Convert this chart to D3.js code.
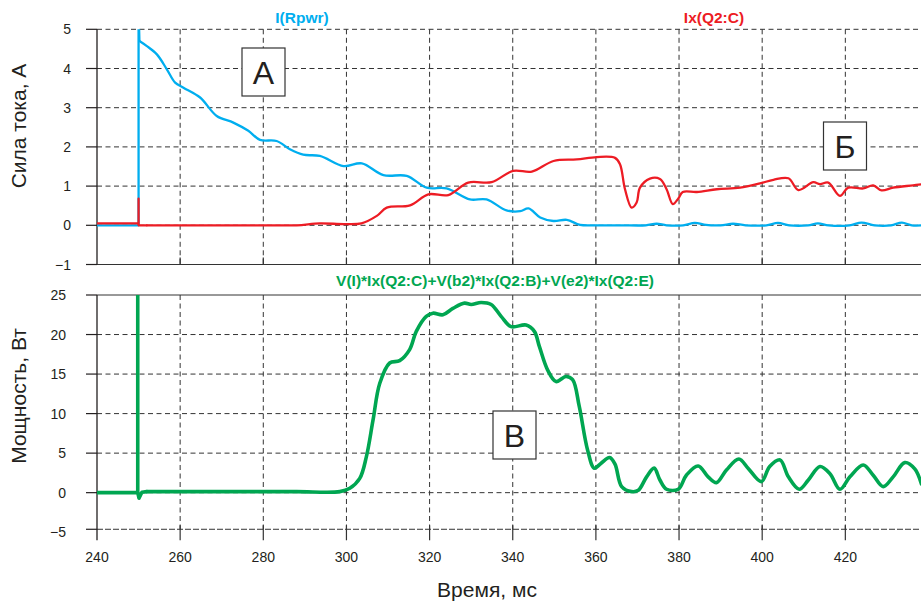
<!DOCTYPE html>
<html><head><meta charset="utf-8">
<script src="https://cdn.jsdelivr.net/npm/d3@7"></script>
<style>
html,body{margin:0;padding:0;background:#fff;}
svg{display:block;font-family:"Liberation Sans",Arial,sans-serif;}
</style></head>
<body>
<svg id="chart" width="921" height="604"></svg>
<script>
// ---- data ----
const xTicks = [240, 260, 280, 300, 320, 340, 360, 380, 400, 420];
const currentTicks = [-1, 0, 1, 2, 3, 4, 5];
const powerTicks = [-5, 0, 5, 10, 15, 20, 25];

const iRpwr = [[240,0],[250,0],[250,5.6],[250.2,4.7],[252,4.57],[254.4,4.36],[256.8,3.98],[258.8,3.64],[260.8,3.51],[264.8,3.26],[268.8,2.79],[272.8,2.62],[276.4,2.41],[279.2,2.18],[283.2,2.15],[286.4,1.94],[289.6,1.80],[293.6,1.77],[299.3,1.51],[303.7,1.58],[308.9,1.28],[314.5,1.26],[319.3,0.96],[324.1,0.94],[329.7,0.66],[333.7,0.66],[338.5,0.38],[341.8,0.36],[343.8,0.43],[346.6,0.2],[349.8,0.11],[353,0.14],[356.2,0.01],[360,0],[366,0],[372,0],[374.6,0.04],[377,0],[381,0],[383.8,0.06],[386.5,0.01],[390,0],[393,0.04],[396,0],[401,0],[403.8,0.06],[406.5,0],[411,0],[413.4,0.05],[416,0],[421,0],[423.9,0.07],[427,0],[431,0],[433.6,0.07],[436,0],[438.5,0]];

const ixQ2C = [[240,0.05],[250,0.05],[250,0.68],[250,0],[252,0],[265,0],[280,0],[288,0],[293.6,0.05],[299.5,0.03],[303.6,0.05],[307.3,0.24],[309.7,0.45],[315.3,0.51],[319.7,0.79],[324.5,0.77],[329.3,1.09],[334.9,1.1],[340.1,1.39],[344.6,1.37],[349.8,1.64],[355.4,1.68],[360.2,1.74],[364.6,1.72],[365.8,1.56],[367,0.92],[368.6,0.45],[369.8,0.58],[370.6,0.96],[373,1.19],[375.4,1.18],[377,0.92],[378.5,0.54],[379.8,0.68],[380.9,0.85],[384.3,0.85],[389.1,0.92],[394.7,0.96],[399.5,1.07],[402.7,1.16],[406.3,1.2],[408.7,0.9],[412.3,1.1],[413.9,1.05],[415.9,1.09],[418.7,0.75],[420.7,0.96],[424.3,0.94],[426.7,1.02],[428.7,0.89],[431.5,0.96],[436.3,1.02],[438.5,1.05]];

const power = [[240,0],[249.8,0],[249.8,30],[249.8,0],[250.1,-0.7],[250.8,0.05],[252,0.13],[262,0.13],[275,0.13],[288,0.13],[298.4,0.13],[300.8,0.55],[303.2,1.8],[304.8,4.56],[306.4,9.2],[308,13.8],[310.4,16.4],[312.8,16.7],[315.2,18.1],[316.8,20.4],[319.2,22.3],[320.8,22.7],[323.2,22.5],[325.6,23.3],[328.4,23.97],[330,23.8],[332.4,24.05],[334.8,23.8],[337.2,22.3],[339.6,21],[343.2,21.2],[345.2,20.4],[346.4,18.5],[348.4,15.5],[350.4,14.05],[352.8,14.7],[354.4,14.3],[356,10.9],[358,5.4],[359.6,3.1],[361.2,3.7],[363.3,4.45],[364.6,3.6],[366.2,0.76],[368.6,0.13],[370.2,0.3],[372.2,2.0],[374,3.1],[375.4,1.6],[377,0.43],[379.8,0.43],[381.8,2.24],[384.6,3.38],[387,2.0],[389,1.27],[391.4,2.87],[394.4,4.26],[396.6,3.1],[399.8,1.4],[401.8,3.3],[404.3,4.14],[406.3,2.0],[408.9,0.43],[411.1,1.6],[413.9,3.3],[416.3,2.4],[418.7,0.43],[421.1,2.0],[424.3,3.5],[426.7,2.2],[429.1,0.76],[431.5,2.0],[434.3,3.8],[436.7,3.0],[438.3,1.1]];

// time up to which each series is a sharp step (drawn straight), smooth afterwards
const stepEnd = {iRpwr: 250.2, ixQ2C: 252, power: 252};

const labels = {top:["I(Rpwr)","Ix(Q2:C)"], bottom:"V(I)*Ix(Q2:C)+V(b2)*Ix(Q2:B)+V(e2)*Ix(Q2:E)"};

// ---- layout ----
const svg = d3.select("#chart");
const X0 = 97, X1 = 921;
const x = d3.scaleLinear().domain([240, 438.2]).range([X0, X1]);
const yTop = d3.scaleLinear().domain([-1, 5]).range([264.5, 29.3]);
const yBot = d3.scaleLinear().domain([-5, 25]).range([532.2, 295]);
const botFloor = -4.63;

const CYAN = "#00aeef", RED = "#ed1c24", GREEN = "#00a651", INK = "#231f20", GRID = "#333";

const defs = svg.append("defs");
defs.append("clipPath").attr("id","clipTop").append("rect")
  .attr("x",X0).attr("y",yTop(5)).attr("width",X1-X0).attr("height",yTop(-1)-yTop(5));
defs.append("clipPath").attr("id","clipBot").append("rect")
  .attr("x",X0).attr("y",yBot(25)).attr("width",X1-X0).attr("height",yBot(botFloor)-yBot(25));

function panel(y, ticks, top, bottom, topSolid, bottomSolid, labelRight, xTickDown) {
  const g = svg.append("g");
  ticks.filter(v => v > bottom && v <= top).forEach(v => {
    const solid = (v === top && topSolid);
    g.append("line").attr("x1",X0).attr("x2",X1).attr("y1",y(v)).attr("y2",y(v))
      .attr("stroke",GRID).attr("stroke-width",1).attr("stroke-dasharray",solid?null:"5,3.5");
  });
  g.append("line").attr("x1",X0).attr("x2",X1).attr("y1",y(bottom)).attr("y2",y(bottom))
    .attr("stroke",GRID).attr("stroke-width",1).attr("stroke-dasharray",bottomSolid?null:"6,2");
  xTicks.slice(1).forEach(t => {
    g.append("line").attr("x1",x(t)).attr("x2",x(t)).attr("y1",y(top)).attr("y2",y(bottom))
      .attr("stroke",GRID).attr("stroke-width",1).attr("stroke-dasharray","5,3.5");
    if (xTickDown) {
      g.append("line").attr("x1",x(t)).attr("x2",x(t)).attr("y1",y(bottom)-4).attr("y2",y(bottom)+11)
        .attr("stroke",GRID).attr("stroke-width",1.2);
    } else {
      g.append("line").attr("x1",x(t)).attr("x2",x(t)).attr("y1",y(bottom)-7).attr("y2",y(bottom))
        .attr("stroke",GRID).attr("stroke-width",1.2);
    }
  });
  g.append("line").attr("x1",X0).attr("x2",X0).attr("y1",y(top)).attr("y2",y(bottom)+(xTickDown?11:0))
    .attr("stroke",INK).attr("stroke-width",1.3);
  ticks.forEach(v => {
    const ty = (v < bottom) ? y(bottom) : y(v);
    g.append("line").attr("x1",X0-11).attr("x2",X0).attr("y1",ty).attr("y2",ty)
      .attr("stroke",INK).attr("stroke-width",1.2);
    g.append("text").attr("x",labelRight).attr("y",y(v)).attr("dy","0.36em")
      .attr("text-anchor","end").attr("font-size",14).attr("fill",INK)
      .text(v < 0 ? "\u2212" + Math.abs(v) : v);
  });
  return g;
}

panel(yTop, currentTicks, 5, -1, false, true, 71, false);
panel(yBot, powerTicks, 25, botFloor, true, false, 66, true);

xTicks.forEach(t => {
  svg.append("text").attr("x",x(t)).attr("y",562).attr("text-anchor","middle")
    .attr("font-size",14).attr("fill",INK).text(t);
});

svg.append("text").attr("transform","translate(26,126) rotate(-90)").attr("text-anchor","middle")
  .attr("font-size",21).attr("fill",INK).text("Сила тока, А");
svg.append("text").attr("transform","translate(26,396) rotate(-90)").attr("text-anchor","middle")
  .attr("font-size",21).attr("fill",INK).text("Мощность, Вт");
svg.append("text").attr("x",487).attr("y",597).attr("text-anchor","middle")
  .attr("font-size",21).attr("fill",INK).text("Время, мс");

// series: straight step part + smooth remainder
function drawSeries(data, tEnd, y, clip, color, width) {
  const head = data.filter(d => d[0] <= tEnd);
  const tail = data.filter(d => d[0] >= tEnd);
  const straight = d3.line().x(d => x(d[0])).y(d => y(d[1])).curve(d3.curveLinear);
  const smooth = d3.line().x(d => x(d[0])).y(d => y(d[1])).curve(d3.curveCatmullRom.alpha(0.5));
  [straight(head), smooth(tail)].forEach(dstr => {
    svg.append("path").attr("clip-path",`url(#${clip})`).attr("d",dstr)
      .attr("fill","none").attr("stroke",color).attr("stroke-width",width)
      .attr("stroke-linejoin","round").attr("stroke-linecap","round");
  });
}
drawSeries(iRpwr, stepEnd.iRpwr, yTop, "clipTop", CYAN, 2.3);
drawSeries(ixQ2C, stepEnd.ixQ2C, yTop, "clipTop", RED, 2.3);
drawSeries(power, stepEnd.power, yBot, "clipBot", GREEN, 3.6);

svg.append("text").attr("x",302).attr("y",23).attr("text-anchor","middle").attr("font-size",15.5)
  .attr("font-weight","bold").attr("fill",CYAN).text(labels.top[0]);
svg.append("text").attr("x",714).attr("y",23).attr("text-anchor","middle").attr("font-size",15.5)
  .attr("font-weight","bold").attr("fill",RED).text(labels.top[1]);
svg.append("text").attr("x",495).attr("y",286).attr("text-anchor","middle").attr("font-size",15.5)
  .attr("font-weight","bold").attr("fill",GREEN).text(labels.bottom);

function box(cx, cy, letter) {
  svg.append("rect").attr("x",cx-21.5).attr("y",cy-24).attr("width",43).attr("height",48)
    .attr("fill","#fff").attr("stroke",GRID).attr("stroke-width",1.2);
  svg.append("text").attr("x",cx).attr("y",cy+11.5).attr("text-anchor","middle")
    .attr("font-size",32).attr("fill",INK).text(letter);
}
box(263.5, 72, "А");
box(845, 146, "Б");
box(514.5, 435, "В");
</script>
</body></html>
